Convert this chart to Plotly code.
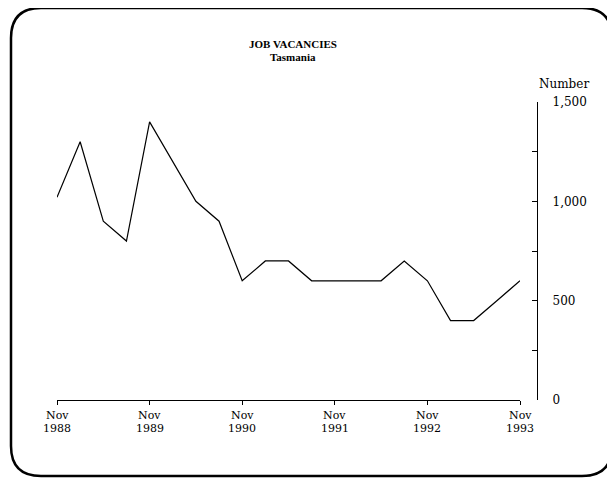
import plotly.graph_objects as go

# ---- data ----
quarters = ["Nov 1988", "Feb 1989", "May 1989", "Aug 1989", "Nov 1989", "Feb 1990",
            "May 1990", "Aug 1990", "Nov 1990", "Feb 1991", "May 1991", "Aug 1991",
            "Nov 1991", "Feb 1992", "May 1992", "Aug 1992", "Nov 1992", "Feb 1993",
            "May 1993", "Aug 1993", "Nov 1993"]
vacancies = [1020, 1300, 900, 800, 1400, 1200, 1000, 900, 600, 700, 700, 600,
             600, 600, 600, 700, 600, 400, 400, 500, 600]
tick_quarters = ["Nov 1988", "Nov 1989", "Nov 1990", "Nov 1991", "Nov 1992", "Nov 1993"]
tick_months = ["Nov", "Nov", "Nov", "Nov", "Nov", "Nov"]
tick_years = ["1988", "1989", "1990", "1991", "1992", "1993"]
y_tickvals = [0, 250, 500, 750, 1000, 1250, 1500]
y_ticktext = ["0", "", "500", "", "1,000", "", "1,500"]

# ---- layout geometry (page pixels; the page body has an 8px margin) ----
OFF = 8
W, H = 615 - OFF, 479 - OFF
PL, PR, PT, PB = 57, 537, 102, 400          # plot area edges in page pixels
L, R, T, B = PL - OFF, W - (PR - OFF), PT - OFF, H - (PB - OFF)
PW, PH = PR - PL, PB - PT


def px(x):
    return (x - PL) / PW


def py(y):
    return (PB - y) / PH


SERIF = "DejaVu Serif, Liberation Serif, serif"
TIMES = "Liberation Serif, Times New Roman, serif"

fig = go.Figure()
fig.add_trace(go.Scatter(
    x=quarters, y=vacancies, mode="lines",
    line=dict(color="black", width=1.2), showlegend=False, hoverinfo="skip"))

fig.update_layout(
    width=W, height=H,
    margin=dict(l=L, r=R, t=T, b=B),
    paper_bgcolor="white", plot_bgcolor="white",
    xaxis=dict(
        type="category", categoryorder="array", categoryarray=quarters,
        range=[0, len(quarters) - 1], domain=[0, (520 - PL) / PW],
        showgrid=False, zeroline=False, showline=True, linecolor="black", linewidth=1.2,
        tickmode="array", tickvals=tick_quarters, ticktext=[""] * len(tick_quarters),
        ticks="outside", ticklen=4, tickcolor="black", tickwidth=1.2,
        fixedrange=True),
    yaxis=dict(
        range=[0, 1500], side="right", anchor="free", position=1.0,
        showgrid=False, zeroline=False, showline=True, linecolor="black", linewidth=1.2,
        tickmode="array", tickvals=y_tickvals, ticktext=y_ticktext,
        ticks="inside", ticklen=5, tickcolor="black", tickwidth=1.2,
        ticklabelstandoff=12,
        tickfont=dict(family=SERIF, size=12, color="black"),
        fixedrange=True),
)

annotations = [
    dict(text="<b>JOB VACANCIES</b>", x=px(293), y=py(44), xref="paper", yref="paper",
         showarrow=False, font=dict(family=TIMES, size=11, color="black"),
         xanchor="center", yanchor="middle"),
    dict(text="<b>Tasmania</b>", x=px(293), y=py(57), xref="paper", yref="paper",
         showarrow=False, font=dict(family=TIMES, size=11, color="black"),
         xanchor="center", yanchor="middle"),
    dict(text="Number", x=px(564), y=py(84), xref="paper", yref="paper",
         showarrow=False, font=dict(family=SERIF, size=12, color="black"),
         xanchor="center", yanchor="middle"),
]
for q, m, yr in zip(tick_quarters, tick_months, tick_years):
    annotations.append(dict(text=m, x=q, y=py(415), xref="x", yref="paper",
                            showarrow=False, xanchor="center", yanchor="middle",
                            font=dict(family=SERIF, size=11, color="black")))
    annotations.append(dict(text=yr, x=q, y=py(428), xref="x", yref="paper",
                            showarrow=False, xanchor="center", yanchor="middle",
                            font=dict(family=SERIF, size=11, color="black")))
fig.update_layout(annotations=annotations)

# rounded frame around the whole chart
x0, x1, y0, y1, r = 11, 612, 8, 476, 30
path = (f"M {px(x0)},{py(y0 + r)} Q {px(x0)},{py(y0)} {px(x0 + r)},{py(y0)} "
        f"L {px(x1 - r)},{py(y0)} Q {px(x1)},{py(y0)} {px(x1)},{py(y0 + r)} "
        f"L {px(x1)},{py(y1 - r)} Q {px(x1)},{py(y1)} {px(x1 - r)},{py(y1)} "
        f"L {px(x0 + r)},{py(y1)} Q {px(x0)},{py(y1)} {px(x0)},{py(y1 - r)} Z")
fig.add_shape(type="path", path=path, xref="paper", yref="paper",
              line=dict(color="black", width=2.5), layer="above")

fig.write_html("out.html")
